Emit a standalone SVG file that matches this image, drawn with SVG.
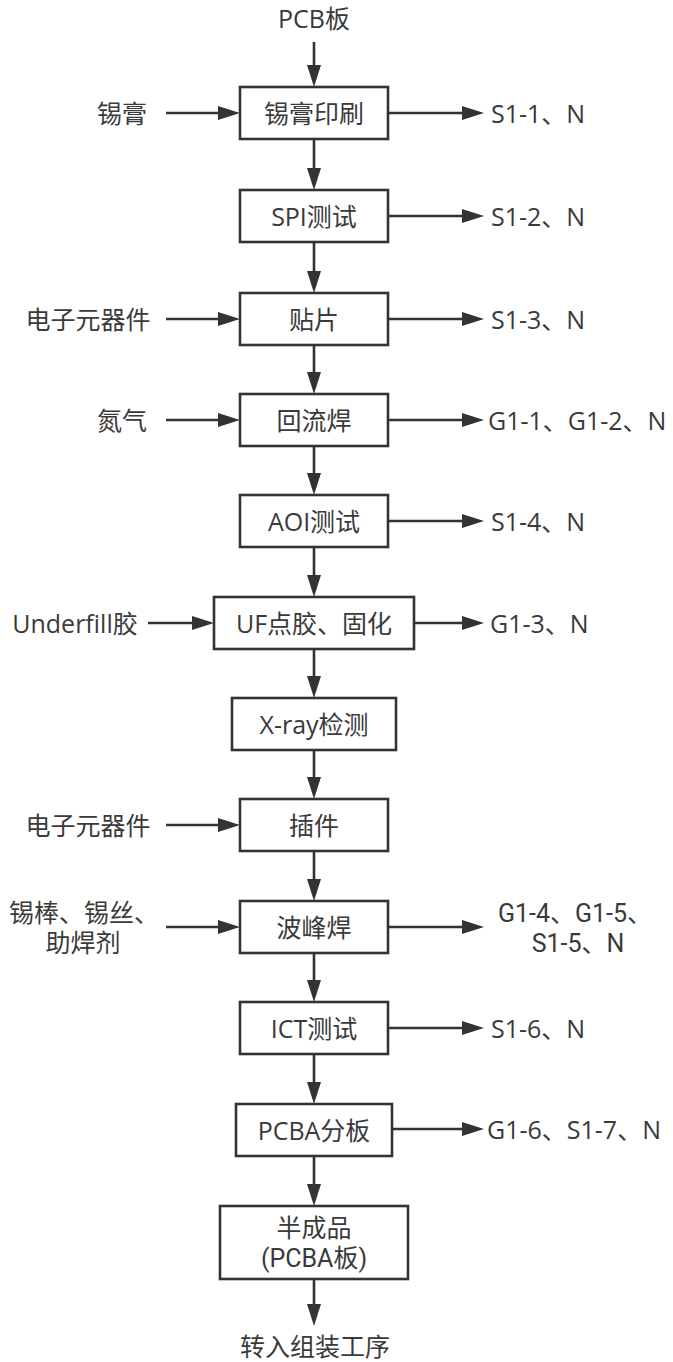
<svg xmlns="http://www.w3.org/2000/svg" width="673" height="1362" viewBox="0 0 673 1362">
<style>
.bg{fill:#fff}
.box{fill:#fff;stroke:#333;stroke-width:2.6}
.ln{stroke:#333;stroke-width:2.6;fill:none;marker-end:url(#ah)}
text{font-family:"Open Sans","Noto Sans CJK SC",sans-serif;font-size:25px;fill:#3a3a3a}
text.two{font-family:Roboto,"Noto Sans CJK SC",sans-serif}
.m{text-anchor:middle}
.s{text-anchor:start}
</style>
<defs>
<marker id="ah" markerUnits="userSpaceOnUse" markerWidth="24" markerHeight="16" refX="12" refY="7" orient="auto">
<path d="M0,0 L22,7 L0,14 Z" fill="#333"/>
</marker>
</defs>
<rect class="bg" x="0" y="0" width="673" height="1362"/>
<g id="connectors">
<line class="ln" x1="314" y1="42" x2="314" y2="77"/>
<line class="ln" x1="314" y1="139" x2="314" y2="180"/>
<line class="ln" x1="314" y1="242" x2="314" y2="283"/>
<line class="ln" x1="314" y1="345" x2="314" y2="384"/>
<line class="ln" x1="314" y1="446" x2="314" y2="485"/>
<line class="ln" x1="314" y1="547" x2="314" y2="587"/>
<line class="ln" x1="314" y1="649" x2="314" y2="688"/>
<line class="ln" x1="314" y1="750" x2="314" y2="789"/>
<line class="ln" x1="314" y1="851" x2="314" y2="891"/>
<line class="ln" x1="314" y1="953" x2="314" y2="992"/>
<line class="ln" x1="314" y1="1054" x2="314" y2="1094"/>
<line class="ln" x1="314" y1="1156" x2="314" y2="1196"/>
<line class="ln" x1="314" y1="1279" x2="314" y2="1316"/>
<line class="ln" x1="166" y1="113" x2="230" y2="113"/>
<line class="ln" x1="166" y1="319" x2="230" y2="319"/>
<line class="ln" x1="166" y1="420" x2="230" y2="420"/>
<line class="ln" x1="148" y1="623" x2="204" y2="623"/>
<line class="ln" x1="166" y1="825" x2="230" y2="825"/>
<line class="ln" x1="166" y1="927" x2="230" y2="927"/>
<line class="ln" x1="388" y1="113" x2="474" y2="113"/>
<line class="ln" x1="388" y1="216" x2="474" y2="216"/>
<line class="ln" x1="388" y1="319" x2="474" y2="319"/>
<line class="ln" x1="388" y1="420" x2="474" y2="420"/>
<line class="ln" x1="388" y1="521" x2="474" y2="521"/>
<line class="ln" x1="414" y1="623" x2="474" y2="623"/>
<line class="ln" x1="388" y1="927" x2="474" y2="927"/>
<line class="ln" x1="388" y1="1028" x2="474" y2="1028"/>
<line class="ln" x1="392" y1="1129" x2="474" y2="1129"/>
</g>
<g id="n-pcb"><text class="m" x="314" y="28">PCB板</text></g>
<g id="n1"><rect class="box" x="240" y="87" width="148" height="52"/><text class="m" x="314" y="123">锡膏印刷</text></g>
<g id="n2"><rect class="box" x="240" y="190" width="148" height="52"/><text class="m" x="314" y="226">SPI测试</text></g>
<g id="n3"><rect class="box" x="240" y="293" width="148" height="52"/><text class="m" x="314" y="329">贴片</text></g>
<g id="n4"><rect class="box" x="240" y="394" width="148" height="52"/><text class="m" x="314" y="430">回流焊</text></g>
<g id="n5"><rect class="box" x="240" y="495" width="148" height="52"/><text class="m" x="314" y="531">AOI测试</text></g>
<g id="n6"><rect class="box" x="214" y="597" width="200" height="52"/><text class="m" x="314" y="633">UF点胶、固化</text></g>
<g id="n7"><rect class="box" x="232" y="698" width="164" height="52"/><text class="m" x="314" y="734">X-ray检测</text></g>
<g id="n8"><rect class="box" x="240" y="799" width="148" height="52"/><text class="m" x="314" y="835">插件</text></g>
<g id="n9"><rect class="box" x="240" y="901" width="148" height="52"/><text class="m" x="314" y="937">波峰焊</text></g>
<g id="n10"><rect class="box" x="240" y="1002" width="148" height="52"/><text class="m" x="314" y="1038">ICT测试</text></g>
<g id="n11"><rect class="box" x="236" y="1104" width="156" height="52"/><text class="m" x="314" y="1140">PCBA分板</text></g>
<g id="n12"><rect class="box" x="220" y="1206" width="188" height="73"/><text class="m two"><tspan x="314" y="1237">半成品</tspan><tspan x="314" y="1267">(PCBA板)</tspan></text></g>
<g id="n-out"><text class="m" x="315" y="1356">转入组装工序</text></g>
<g id="in1"><text class="m" x="122" y="123">锡膏</text></g>
<g id="in3"><text class="m" x="88" y="329">电子元器件</text></g>
<g id="in4"><text class="m" x="122" y="430">氮气</text></g>
<g id="in6"><text class="m" x="75" y="633">Underfill胶</text></g>
<g id="in8"><text class="m" x="88" y="835">电子元器件</text></g>
<g id="in9"><text class="m two"><tspan x="84" y="922">锡棒、锡丝、</tspan><tspan x="83" y="952">助焊剂</tspan></text></g>
<g id="out1"><text class="s" x="491" y="123">S1-1、N</text></g>
<g id="out2"><text class="s" x="491" y="226">S1-2、N</text></g>
<g id="out3"><text class="s" x="491" y="329">S1-3、N</text></g>
<g id="out4"><text class="s" x="488" y="430">G1-1、G1-2、N</text></g>
<g id="out5"><text class="s" x="491" y="531">S1-4、N</text></g>
<g id="out6"><text class="s" x="490" y="633">G1-3、N</text></g>
<g id="out9"><text class="m two"><tspan x="575" y="922">G1-4、G1-5、</tspan><tspan x="578" y="952">S1-5、N</tspan></text></g>
<g id="out10"><text class="s" x="491" y="1038">S1-6、N</text></g>
<g id="out11"><text class="s" x="487" y="1139">G1-6、S1-7、N</text></g>
</svg>
